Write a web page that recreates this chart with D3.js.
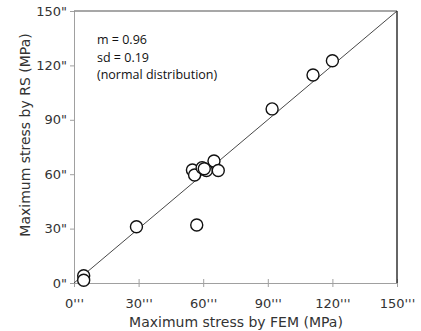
<!DOCTYPE html>
<html>
<head>
<meta charset="utf-8">
<script src="https://cdn.jsdelivr.net/npm/d3@7"></script>
<style>
  body { margin: 0; background: #fff; }
  svg text { font-family: "DejaVu Sans", Verdana, sans-serif; fill: #333; }
</style>
</head>
<body>
<div id="chart"></div>
<script>
// Maximum stress by FEM (x) vs by RS (y), MPa
const femStress = [4.5, 4.5, 29, 57, 55, 56, 59.5, 61.5, 65, 67, 60.5, 92, 111, 120];
const rsStress  = [4, 1.5, 31, 32, 62.3, 59.6, 63.6, 62, 67.3, 62, 63, 96, 114.7, 122.6];
const tickValues = [0, 30, 60, 90, 120, 150];
const notes = ['m = 0.96', 'sd = 0.19', '(normal distribution)'];

const width = 421, height = 331;
const margin = { top: 11, right: 24, bottom: 48, left: 74 };

const svg = d3.select('#chart')
  .append('svg')
  .attr('width', width)
  .attr('height', height);

const x = d3.scaleLinear().domain([0, 150]).range([margin.left, width - margin.right]);
const y = d3.scaleLinear().domain([0, 150]).range([height - margin.bottom, margin.top]);

// x axis
const xAxis = svg.append('g')
  .attr('transform', `translate(0,${y(0)})`)
  .call(d3.axisBottom(x).tickValues(tickValues).tickSize(4).tickFormat(d => d + "'''"));
xAxis.select('.domain').attr('stroke', '#a0a0a0');
xAxis.selectAll('.tick line').attr('stroke', '#a0a0a0').attr('y1', -4);
xAxis.selectAll('.tick text').attr('dy', '1.35em').style('font-size', '13px');

// y axis
const yAxis = svg.append('g')
  .attr('transform', `translate(${x(0)},0)`)
  .call(d3.axisLeft(y).tickValues(tickValues).tickSize(4).tickFormat(d => d + '"'));
yAxis.select('.domain').attr('stroke', '#a0a0a0');
yAxis.selectAll('.tick line').attr('stroke', '#a0a0a0');
yAxis.selectAll('.tick text').attr('x', -7).style('font-size', '13px');

// top and right border
svg.append('line')
  .attr('x1', x(0)).attr('x2', x(150))
  .attr('y1', y(150)).attr('y2', y(150))
  .attr('stroke', '#8a8a8a').attr('stroke-width', 1.5);
svg.append('line')
  .attr('x1', x(150)).attr('x2', x(150))
  .attr('y1', y(150)).attr('y2', y(0))
  .attr('stroke', '#333').attr('stroke-width', 1.5);

// 1:1 line
svg.append('line')
  .attr('x1', x(0)).attr('y1', y(0))
  .attr('x2', x(150)).attr('y2', y(150))
  .attr('stroke', '#333').attr('stroke-width', 0.9);

// points
svg.selectAll('circle.pt')
  .data(femStress.map((d, i) => [d, rsStress[i]]))
  .join('circle')
  .attr('class', 'pt')
  .attr('cx', d => x(d[0]))
  .attr('cy', d => y(d[1]))
  .attr('r', 6)
  .attr('fill', '#fff')
  .attr('stroke', '#111')
  .attr('stroke-width', 1.4);

// annotation
svg.selectAll('text.note')
  .data(notes)
  .join('text')
  .attr('class', 'note')
  .attr('x', 97)
  .attr('y', (d, i) => 44 + i * 17.5)
  .style('font-family', '"Open Sans", sans-serif')
  .style('font-size', '12.5px')
  .style('fill', '#111')
  .text(d => d);

// axis titles
svg.append('text')
  .attr('x', 236)
  .attr('y', 327)
  .attr('text-anchor', 'middle')
  .style('font-size', '14px')
  .text('Maximum stress by FEM (MPa)');

svg.append('text')
  .attr('transform', 'translate(30,135) rotate(-90)')
  .attr('text-anchor', 'middle')
  .style('font-size', '14px')
  .text('Maximum stress by RS (MPa)');
</script>
</body>
</html>
